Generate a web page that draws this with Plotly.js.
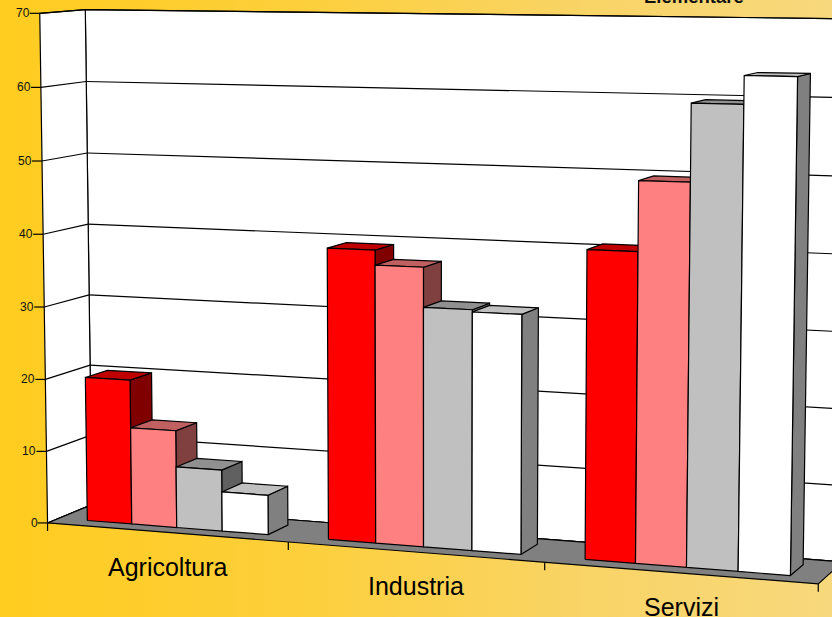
<!DOCTYPE html>
<html><head><meta charset="utf-8">
<script src="https://cdn.plot.ly/plotly-3.0.1.min.js"></script>
<style>html,body{margin:0;padding:0;width:832px;height:617px;overflow:hidden;background:linear-gradient(90deg,#FFCC1F 0%,#FDCF3A 35%,#F9D466 70%,#F7D87C 100%)}</style>
</head><body><div id="chart" style="width:832px;height:617px"></div>
<script>
const categories = ['Agricoltura','Industria','Servizi'];
const seriesRed   = [20, 39.3, 40.5];
const seriesPink  = [13.4, 37.3, 49.6];
const seriesGray  = [8.4, 32, 59.6];
const seriesWhite = [5.4, 31.7, 63.2];
const yTicks = [0,10,20,30,40,50,60,70];
const titleText = 'Elementare';

const series = [
 {v:seriesRed,  front:'#FF0000',topc:'#C00000',side:'#800000'},
 {v:seriesPink, front:'#FF8080',topc:'#C06060',side:'#804040'},
 {v:seriesGray, front:'#C0C0C0',topc:'#909090',side:'#606060'},
 {v:seriesWhite,front:'#FFFFFF',topc:'#C0C0C0',side:'#808080'}];

// camera: [category position, value, depth] seen at [pixel x, pixel y]
const cal = [
 [0,0,0,48,523],[3,0,0,819,584],[1,0,0,289,543],[2,0,0,544,563],
 [0,70,0,40,13.5],[0,60,0,40,87],[0,40,0,44,233],[0,30,0,45,306],[0,20,0,46,380],
 [0,70,1,85,11],[0,60,1,86,82],[0,0,1,92,506],[3,0,1,844,561],[3,70,1,854,19],
 [0.122,0,.25,87,521],[0.878,0,.25,269,534],[0.878,0,.75,288,525],
 [1.122,0,.25,328,540],[1.878,0,.25,521,555],
 [2.122,0,.25,585,561],[2.878,0,.25,790,575],[2.878,0,.75,801,563],
 [0.122,20,.75,107,369],[0.311,20,.75,152,374],[0.122,20,.25,85,378],
 [1.122,39.3,.25,326,247],[1.311,39.3,.25,374,249],[1.122,39.3,.75,347,240],[1.311,39.3,.75,393,243],
 [2.689,63.2,.25,743,75],[2.878,63.2,.25,799,78],[2.689,63.2,.75,757,73],[2.878,63.2,.75,810,75]];
function solve(A,b){const n=b.length;for(let i=0;i<n;i++){let p=i;for(let r=i+1;r<n;r++)if(Math.abs(A[r][i])>Math.abs(A[p][i]))p=r;
 [A[i],A[p]]=[A[p],A[i]];[b[i],b[p]]=[b[p],b[i]];
 for(let r=i+1;r<n;r++){const f=A[r][i]/A[i][i];for(let c=i;c<n;c++)A[r][c]-=f*A[i][c];b[r]-=f*b[i];}}
 const x=Array(n).fill(0);for(let i=n-1;i>=0;i--){let s=b[i];for(let c=i+1;c<n;c++)s-=A[i][c]*x[c];x[i]=s/A[i][i];}return x;}
const rows=[],rhs=[];
cal.forEach(([x,y,z,u,v])=>{const X=[x,y/70,z,1],U=u/800,V=v/800;
 rows.push([...X,0,0,0,0,-U*X[0],-U*X[1],-U*X[2]]);rhs.push(U);
 rows.push([0,0,0,0,...X,-V*X[0],-V*X[1],-V*X[2]]);rhs.push(V);});
const N=Array.from({length:11},(_,i)=>Array.from({length:11},(_,j)=>rows.reduce((s,r)=>s+r[i]*r[j],0)));
const B=Array.from({length:11},(_,i)=>rows.reduce((s,r,k)=>s+r[i]*rhs[k],0));
const P=solve(N,B);
function pr(x,y,z){const a=y/70,w=P[8]*x+P[9]*a+P[10]*z+1;
 return [800*(P[0]*x+P[1]*a+P[2]*z+P[3])/w,800*(P[4]*x+P[5]*a+P[6]*z+P[7])/w];}

const traces=[];
const lw=1.2;
function face(pts,color,label){const q=pts.concat([pts[0]]).map(p=>pr(...p));
 traces.push({type:'scatter',mode:'lines',x:q.map(p=>p[0]),y:q.map(p=>p[1]),fill:'toself',fillcolor:color,
  line:{color:'#000',width:lw},name:label,hoverinfo:'skip',showlegend:false});}
function segment(a,b,label){const q=[pr(...a),pr(...b)];
 traces.push({type:'scatter',mode:'lines',x:q.map(p=>p[0]),y:q.map(p=>p[1]),line:{color:'#000',width:lw},name:label,hoverinfo:'skip',showlegend:false});}

const xEnd=categories.length,topV=yTicks[yTicks.length-1];
face([[0,0,1],[xEnd,0,1],[xEnd,topV,1],[0,topV,1]],'#FFFFFF','back wall');
face([[0,0,0],[0,0,1],[0,topV,1],[0,topV,0]],'#FFFFFF','side wall');
yTicks.forEach(t=>{segment([0,t,0],[0,t,1],'grid');segment([0,t,1],[xEnd,t,1],'grid');});
face([[0,0,0],[xEnd,0,0],[xEnd,0,1],[0,0,1]],'#808080','floor');

const gapLeft=.122,barW=.189,zF=.25,zB=.75;
categories.forEach((c,i)=>{series.forEach((s,j)=>{
 const a=i+gapLeft+j*barW,b=a+barW,v=s.v[i];
 face([[b,0,zF],[b,0,zB],[b,v,zB],[b,v,zF]],s.side,c+' side');
 face([[a,v,zF],[b,v,zF],[b,v,zB],[a,v,zB]],s.topc,c+' top');
 face([[a,0,zF],[b,0,zF],[b,v,zF],[a,v,zF]],s.front,c+' front');
});});

const annotations=[];
const tickLen=10;
yTicks.forEach(t=>{const p=pr(0,t,0);
 traces.push({type:'scatter',mode:'lines',x:[p[0]-tickLen,p[0]],y:[p[1],p[1]],line:{color:'#000',width:lw},hoverinfo:'skip',showlegend:false});
 annotations.push({x:p[0],y:p[1],xref:'x',yref:'y',text:String(t),showarrow:false,xanchor:'right',yanchor:'middle',xshift:-tickLen,
  font:{family:'Liberation Sans',size:12,color:'#111'},borderpad:0,borderwidth:0});});
for(let i=0;i<=xEnd;i++){const p=pr(i,0,0);
 traces.push({type:'scatter',mode:'lines',x:[p[0],p[0]],y:[p[1],p[1]+8],line:{color:'#000',width:lw},hoverinfo:'skip',showlegend:false});}
categories.forEach((c,i)=>{const p=pr(i+.5,0,0);
 annotations.push({x:p[0],y:p[1],xref:'x',yref:'y',text:c,showarrow:false,xanchor:'center',yanchor:'middle',xshift:2,yshift:-34.5,
  font:{family:'Liberation Sans',size:25,color:'#000'}});});
annotations.push({x:694,y:0,xref:'x',yref:'y',text:titleText,showarrow:false,xanchor:'center',yanchor:'bottom',yshift:-9,
 font:{family:'Liberation Sans',size:18.5,color:'#111',weight:700}});

Plotly.newPlot('chart',traces,{width:832,height:617,margin:{l:0,r:0,t:0,b:0},
 paper_bgcolor:'rgba(0,0,0,0)',plot_bgcolor:'rgba(0,0,0,0)',showlegend:false,
 xaxis:{range:[0,832],visible:false,fixedrange:true},yaxis:{range:[617,0],visible:false,fixedrange:true},
 annotations},{displayModeBar:false,staticPlot:true});
</script></body></html>
